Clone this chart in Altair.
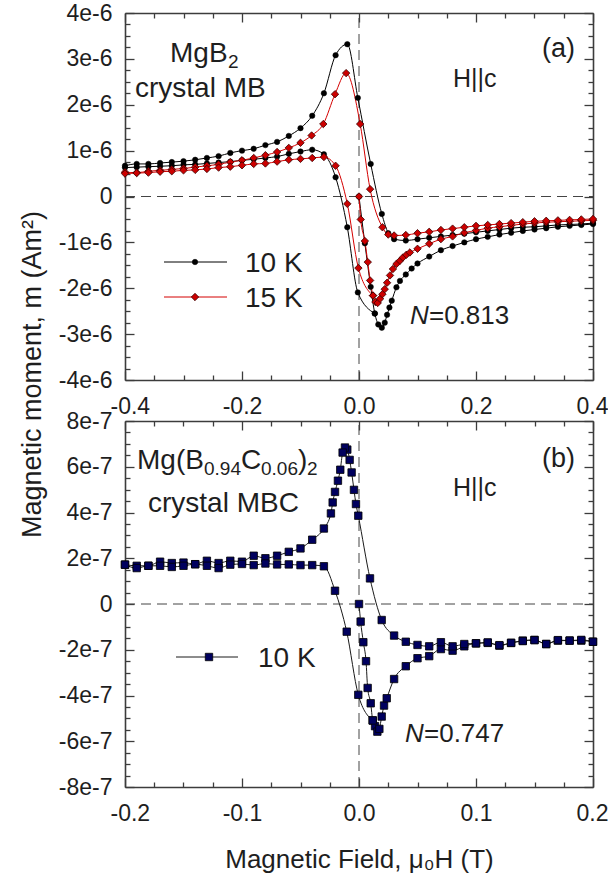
import altair as alt
import pandas as pd

FONT = "Liberation Sans"
AXC = "#3c3c3c"
TXT = "#1e1e1e"

# ===== Panel (a): MgB2 crystal MB, field in T, moment in units of 1e-6 A m^2
a10_virgin_H = [0.000, 0.010, 0.020, 0.027, 0.033, 0.039, 0.044, 0.048, 0.052, 0.056,
                0.064, 0.070, 0.080, 0.090, 0.100, 0.12, 0.14, 0.16, 0.18, 0.20,
                0.22, 0.24, 0.26, 0.28, 0.30, 0.32, 0.34, 0.36, 0.38, 0.40]
a10_virgin_m = [0.00, -1.02, -1.97, -2.55, -2.79, -2.86, -2.75, -2.58, -2.42, -2.27,
                -1.98, -1.84, -1.70, -1.57, -1.46, -1.31, -1.17, -1.08, -1.00, -0.93,
                -0.88, -0.83, -0.79, -0.75, -0.72, -0.69, -0.66, -0.64, -0.62, -0.60]
a10_down_H = [0.40, 0.38, 0.36, 0.34, 0.32, 0.30, 0.28, 0.26, 0.24, 0.22, 0.20, 0.18,
              0.16, 0.14, 0.12, 0.10, 0.08, 0.06, 0.050, 0.039, 0.020, -0.002,
              -0.02, -0.04, -0.06, -0.08, -0.10, -0.12, -0.14, -0.16, -0.18, -0.20,
              -0.22, -0.24, -0.26, -0.28, -0.30, -0.32, -0.34, -0.36, -0.38, -0.40]
a10_down_m = [-0.58, -0.60, -0.61, -0.62, -0.64, -0.66, -0.67, -0.69, -0.72, -0.75, -0.78, -0.81,
              -0.84, -0.87, -0.90, -0.93, -0.96, -0.93, -0.80, -0.38, 0.71, 2.15,
              3.32, 3.08, 2.25, 1.76, 1.49, 1.32, 1.19, 1.12, 1.04, 1.00,
              0.95, 0.88, 0.84, 0.80, 0.77, 0.75, 0.73, 0.71, 0.71, 0.67]
a10_up_H = [-0.40, -0.38, -0.36, -0.34, -0.32, -0.30, -0.28, -0.26, -0.24, -0.22,
            -0.20, -0.18, -0.16, -0.14, -0.12, -0.10, -0.08, -0.06, -0.04, -0.02, -0.002, 0.027]
a10_up_m = [0.63, 0.64, 0.65, 0.66, 0.67, 0.69, 0.70, 0.72, 0.74, 0.76,
            0.79, 0.81, 0.84, 0.87, 0.93, 0.98, 1.02, 0.92, 0.42, -0.67, -2.09, -2.55]

a15_virgin_H = [0.000, 0.003, 0.010, 0.015, 0.019, 0.024, 0.028, 0.032, 0.036, 0.040,
                0.044, 0.048, 0.053, 0.058, 0.064, 0.070, 0.075, 0.081, 0.087, 0.100,
                0.12, 0.14, 0.16, 0.18, 0.20, 0.22, 0.24, 0.26, 0.28, 0.30, 0.32, 0.34, 0.36, 0.38, 0.40]
a15_virgin_m = [0.00, -0.50, -0.97, -1.43, -1.83, -2.16, -2.30, -2.32, -2.23, -2.13,
                -2.02, -1.88, -1.72, -1.58, -1.47, -1.40, -1.33, -1.27, -1.22, -1.14,
                -1.03, -0.93, -0.87, -0.79, -0.74, -0.69, -0.66, -0.63, -0.60, -0.58, -0.56, -0.55, -0.54, -0.53, -0.52]
a15_down_H = [0.40, 0.38, 0.36, 0.34, 0.32, 0.30, 0.28, 0.26, 0.24, 0.22, 0.20, 0.18,
              0.16, 0.14, 0.12, 0.10, 0.08, 0.06, 0.050, 0.040, 0.019, 0.002,
              -0.022, -0.041, -0.061, -0.081, -0.10, -0.12, -0.14, -0.16, -0.18, -0.20,
              -0.22, -0.24, -0.26, -0.28, -0.30, -0.32, -0.34, -0.36, -0.38, -0.40]
a15_down_m = [-0.49, -0.50, -0.51, -0.52, -0.53, -0.54, -0.56, -0.58, -0.60, -0.62, -0.64, -0.67,
              -0.70, -0.73, -0.77, -0.80, -0.84, -0.85, -0.83, -0.67, 0.16, 1.58,
              2.69, 2.23, 1.58, 1.33, 1.17, 1.06, 0.97, 0.90, 0.84, 0.79,
              0.75, 0.70, 0.67, 0.64, 0.61, 0.59, 0.57, 0.55, 0.52, 0.53]
a15_up_H = [-0.40, -0.38, -0.36, -0.34, -0.32, -0.30, -0.28, -0.26, -0.24, -0.22,
            -0.20, -0.18, -0.16, -0.14, -0.12, -0.10, -0.08, -0.06, -0.04, -0.02, -0.001, 0.024]
a15_up_m = [0.50, 0.51, 0.52, 0.54, 0.55, 0.57, 0.58, 0.60, 0.63, 0.65,
            0.68, 0.71, 0.72, 0.76, 0.80, 0.82, 0.84, 0.86, 0.67, -0.16, -1.56, -2.16]

# ===== Panel (b): Mg(B0.94C0.06)2 crystal MBC, field in T, moment in units of 1e-7 A m^2
b10_virgin_H = [0.0, 0.0014, 0.0037, 0.0060, 0.0074, 0.0100, 0.0117, 0.0137, 0.0157, 0.0174,
                0.0194, 0.0214, 0.0237, 0.03, 0.04, 0.05, 0.06, 0.07, 0.08, 0.09,
                0.10, 0.11, 0.12, 0.13, 0.14, 0.15, 0.16, 0.17, 0.18, 0.19, 0.20]
b10_virgin_m = [0.00, -0.77, -1.67, -2.50, -3.67, -4.34, -5.09, -5.34, -5.58, -5.46,
                -4.92, -4.44, -4.12, -3.28, -2.72, -2.37, -2.28, -1.97, -2.04, -1.85,
                -1.72, -1.70, -1.82, -1.70, -1.60, -1.57, -1.75, -1.60, -1.60, -1.60, -1.65]
b10_down_H = [0.20, 0.19, 0.18, 0.17, 0.16, 0.15, 0.14, 0.13, 0.12, 0.11, 0.10, 0.09,
              0.08, 0.07, 0.06, 0.05, 0.04, 0.03,
              0.0194, 0.0094, -0.0006, -0.0026, -0.0043, -0.0063, -0.0080, -0.0100,
              -0.0120, -0.0140, -0.0160, -0.0180, -0.0205, -0.0225, -0.0240,
              -0.03, -0.04, -0.05, -0.06, -0.07, -0.08, -0.09, -0.10, -0.11, -0.12,
              -0.13, -0.14, -0.15, -0.16, -0.17, -0.18, -0.19, -0.20]
b10_down_m = [-1.65, -1.57, -1.60, -1.58, -1.75, -1.58, -1.62, -1.70, -1.80, -1.68, -1.72, -1.75,
              -1.85, -1.67, -1.85, -1.79, -1.65, -1.38,
              -0.70, 1.12, 3.86, 4.37, 4.99, 5.75, 6.30, 6.75,
              6.84, 6.62, 5.87, 5.39, 4.90, 4.44, 3.96,
              3.30, 2.81, 2.43, 2.28, 2.11, 2.00, 2.11, 1.85, 1.89, 1.79,
              1.89, 1.74, 1.81, 1.79, 1.85, 1.67, 1.67, 1.72]
b10_up_H = [-0.20, -0.19, -0.18, -0.17, -0.16, -0.15, -0.14, -0.13, -0.12, -0.11,
            -0.10, -0.09, -0.08, -0.07, -0.06, -0.05, -0.04, -0.03, -0.0205, -0.0105, -0.0006, 0.0117]
b10_up_m = [1.72, 1.57, 1.67, 1.67, 1.62, 1.67, 1.74, 1.67, 1.57, 1.72,
            1.75, 1.70, 1.77, 1.73, 1.73, 1.70, 1.70, 1.65, 0.58, -1.21, -3.97, -5.09]

# axis ticks
a_x_major = [-0.4, -0.2, 0.0, 0.2, 0.4]
a_x_minor = [-0.35, -0.3, -0.25, -0.15, -0.1, -0.05, 0.05, 0.1, 0.15, 0.25, 0.3, 0.35]
a_y_major = [-4e-6, -3e-6, -2e-6, -1e-6, 0.0, 1e-6, 2e-6, 3e-6, 4e-6]
a_y_minor = [k * 0.25e-6 for k in range(-16, 17) if k % 4]
b_x_major = [-0.2, -0.1, 0.0, 0.1, 0.2]
b_x_minor = [k * 0.025 for k in range(-8, 9) if k % 4]
b_y_major = [-8e-7, -6e-7, -4e-7, -2e-7, 0.0, 2e-7, 4e-7, 6e-7, 8e-7]
b_y_minor = [k * 0.5e-7 for k in range(-16, 17) if k % 4]


def table(H, m, unit, series, branch):
    return pd.DataFrame({"H": H, "m": [v * unit for v in m], "T": series,
                         "branch": f"{series} {branch}"})


top_df = pd.concat([
    table(a10_virgin_H, a10_virgin_m, 1e-6, "10 K", "virgin"),
    table(a10_down_H, a10_down_m, 1e-6, "10 K", "down"),
    table(a10_up_H, a10_up_m, 1e-6, "10 K", "up"),
    table(a15_virgin_H, a15_virgin_m, 1e-6, "15 K", "virgin"),
    table(a15_down_H, a15_down_m, 1e-6, "15 K", "down"),
    table(a15_up_H, a15_up_m, 1e-6, "15 K", "up"),
], ignore_index=True)
bot_df = pd.concat([
    table(b10_virgin_H, b10_virgin_m, 1e-7, "10 K", "virgin"),
    table(b10_down_H, b10_down_m, 1e-7, "10 K", "down"),
    table(b10_up_H, b10_up_m, 1e-7, "10 K", "up"),
], ignore_index=True)
one = pd.DataFrame({"k": [0]})

XL = "(datum.value < 0 ? '-' : '') + format(abs(datum.value), '.1f')"
YL = "datum.value == 0 ? '0' : (datum.value < 0 ? '-' : '') + format(abs(datum.value), '.0e')"

PW = 468


def tick_axis(orient, values, size, offset, domain=False):
    """Tick-only axis; placed on the opposite edge via a negative offset so ticks point inward."""
    opts = dict(orient=orient, values=values, ticks=True, tickSize=size, tickColor=AXC,
                tickWidth=1.3, grid=False, labels=False, domain=domain, title=None,
                offset=offset)
    if domain:
        opts.update(domainColor=AXC, domainWidth=1.6)
    return alt.Axis(**opts)


def panel(df, xdom, ydom, xmaj, xmin, ymaj, ymin, height, ytitle, xtitle, line_color,
          point_layers, extra_layers):
    xs = alt.Scale(domain=xdom, nice=False, zero=False)
    ys = alt.Scale(domain=ydom, nice=False, zero=False)
    ykw = dict(orient="left", values=ymaj, ticks=False, grid=False, labels=True,
               labelExpr=YL, labelFont=FONT, labelFontSize=23, labelColor=TXT,
               labelPadding=13, domain=True, domainColor=AXC, domainWidth=1.6)
    if ytitle:
        ykw.update(title=ytitle, titleFont=FONT, titleFontSize=27, titleFontWeight="normal",
                   titleColor=TXT, titleAngle=270, titleX=-85, titleY=361,
                   titleAlign="center", titleBaseline="alphabetic")
    else:
        ykw.update(title=None)
    xkw = dict(orient="bottom", values=xmaj, ticks=False, grid=False, labels=True,
               labelExpr=XL, labelFont=FONT, labelFontSize=23, labelColor=TXT,
               labelPadding=15, labelFlush=True, labelFlushOffset=15,
               domain=True, domainColor=AXC, domainWidth=1.6)
    if xtitle:
        xkw.update(title=xtitle, titleFont=FONT, titleFontSize=26, titleFontWeight="normal",
                   titleColor=TXT, titlePadding=21)
    else:
        xkw.update(title=None)

    # inward ticks on all four edges (major and minor), carried by separate layers
    hz = alt.Chart(one).mark_rule(strokeDash=[10, 6], color="#444444", strokeWidth=1).encode(
        x=alt.XDatum(xdom[0], type="quantitative", scale=xs,
                     axis=tick_axis("bottom", xmaj, 9, -height, domain=True)),
        x2=alt.X2Datum(xdom[1]),
        y=alt.YDatum(0, type="quantitative", scale=ys,
                     axis=tick_axis("left", ymaj, 9, -PW, domain=True)))
    vt = alt.Chart(one).mark_rule(strokeDash=[10, 6], color="#444444", strokeWidth=1).encode(
        x=alt.XDatum(0, type="quantitative", scale=xs,
                     axis=tick_axis("bottom", xmin, 5, -height)),
        y=alt.YDatum(ydom[0], type="quantitative", scale=ys,
                     axis=tick_axis("left", ymin, 5, -PW)),
        y2=alt.Y2Datum(ydom[1]))
    lines = alt.Chart(df).mark_line(interpolate="monotone", strokeWidth=1).encode(
        x=alt.X("H:Q", scale=xs, axis=alt.Axis(**xkw)),
        y=alt.Y("m:Q", scale=ys, axis=alt.Axis(**ykw)),
        color=line_color,
        detail="branch:N")
    carriers = [
        (tick_axis("top", xmaj, 9, -height), tick_axis("right", ymaj, 9, -PW)),
        (tick_axis("top", xmin, 5, -height), tick_axis("right", ymin, 5, -PW)),
    ]
    pts = []
    for i, (sub, mark) in enumerate(point_layers):
        ax_x, ax_y = carriers[i] if i < len(carriers) else (None, None)
        pts.append(alt.Chart(sub).mark_point(**mark).encode(
            x=alt.X("H:Q", scale=xs, axis=ax_x),
            y=alt.Y("m:Q", scale=ys, axis=ax_y)))
    return alt.layer(hz, vt, lines, *pts, *extra_layers).resolve_axis(
        x="independent", y="independent").properties(width=PW, height=height)


def txt(s, x, y, size=28, style="normal"):
    return alt.Chart(one).mark_text(text=s, font=FONT, fontSize=size, fontStyle=style,
                                    align="left", baseline="alphabetic", color=TXT).encode(
        x=alt.value(x), y=alt.value(y))


def leg_line(x1, x2, y, color):
    return alt.Chart(one).mark_rule(color=color, strokeWidth=1).encode(
        x=alt.value(x1), x2=alt.value(x2), y=alt.value(y))


def leg_pt(x, y, mark):
    return alt.Chart(one).mark_point(**mark).encode(x=alt.value(x), y=alt.value(y))


CIRC = dict(shape="circle", filled=True, size=30, fill="#000000", stroke="#000000",
            strokeWidth=0.5, opacity=1)
DIAM = dict(shape="diamond", filled=True, size=55, fill="#cc0000", stroke="#3a0000",
            strokeWidth=0.8, opacity=1)
SQR = dict(shape="square", filled=True, size=55, fill="#00005e", stroke="#000000",
           strokeWidth=0.8, opacity=1)
HIDDEN = dict(shape="circle", size=1, opacity=0)

top_color = alt.Color("T:N", scale=alt.Scale(domain=["10 K", "15 K"],
                                             range=["#000000", "#d40000"]), legend=None)
bot_color = alt.value("#1a1a1a")

top_texts = [
    txt("MgB", 45, 49), txt("2", 103, 55, 19),
    txt("crystal MB", 10, 84),
    txt("(a)", 417, 44, 27),
    txt("H||c", 328, 74, 25),
    txt("N", 285, 311, 26, "italic"), txt("=0.813", 304, 311, 26),
    leg_line(39, 102, 249, "#000000"), leg_pt(70, 249, CIRC), txt("10 K", 120, 259),
    leg_line(39, 102, 284, "#d40000"), leg_pt(70, 284, DIAM), txt("15 K", 120, 294),
]
bot_texts = [
    txt("Mg(B", 12, 48), txt("0.94", 79, 54, 19), txt("C", 116, 48),
    txt("0.06", 136, 54, 19), txt(")", 173, 48), txt("2", 182, 54, 19),
    txt("crystal MBC", 23, 91),
    txt("(b)", 417, 46, 27),
    txt("H||c", 328, 75, 25),
    txt("N", 280, 321, 26, "italic"), txt("=0.747", 299, 321, 26),
    leg_line(51, 113, 236, "#1a1a1a"), leg_pt(84, 236, SQR), txt("10 K", 133, 246),
]

top = panel(top_df, [-0.4, 0.4], [-4e-6, 4e-6], a_x_major, a_x_minor, a_y_major, a_y_minor,
            367, "Magnetic moment, m (Am²)", None, top_color,
            [(top_df[top_df["T"] == "10 K"], CIRC), (top_df[top_df["T"] == "15 K"], DIAM)],
            top_texts)
bottom = panel(bot_df, [-0.2, 0.2], [-8e-7, 8e-7], b_x_major, b_x_minor, b_y_major, b_y_minor,
               366, None, "Magnetic Field, μ₀H (T)", bot_color,
               [(bot_df, SQR), (bot_df, HIDDEN)], bot_texts)

chart = alt.vconcat(top, bottom, spacing=41, bounds="flush").resolve_scale(
    x="independent", y="independent", color="independent"
).properties(
    padding={"left": 18, "top": 2, "right": 0, "bottom": 2},
    background="white",
).configure_view(stroke=None)

chart.save("out.html", embed_options={"renderer": "svg", "actions": False})
